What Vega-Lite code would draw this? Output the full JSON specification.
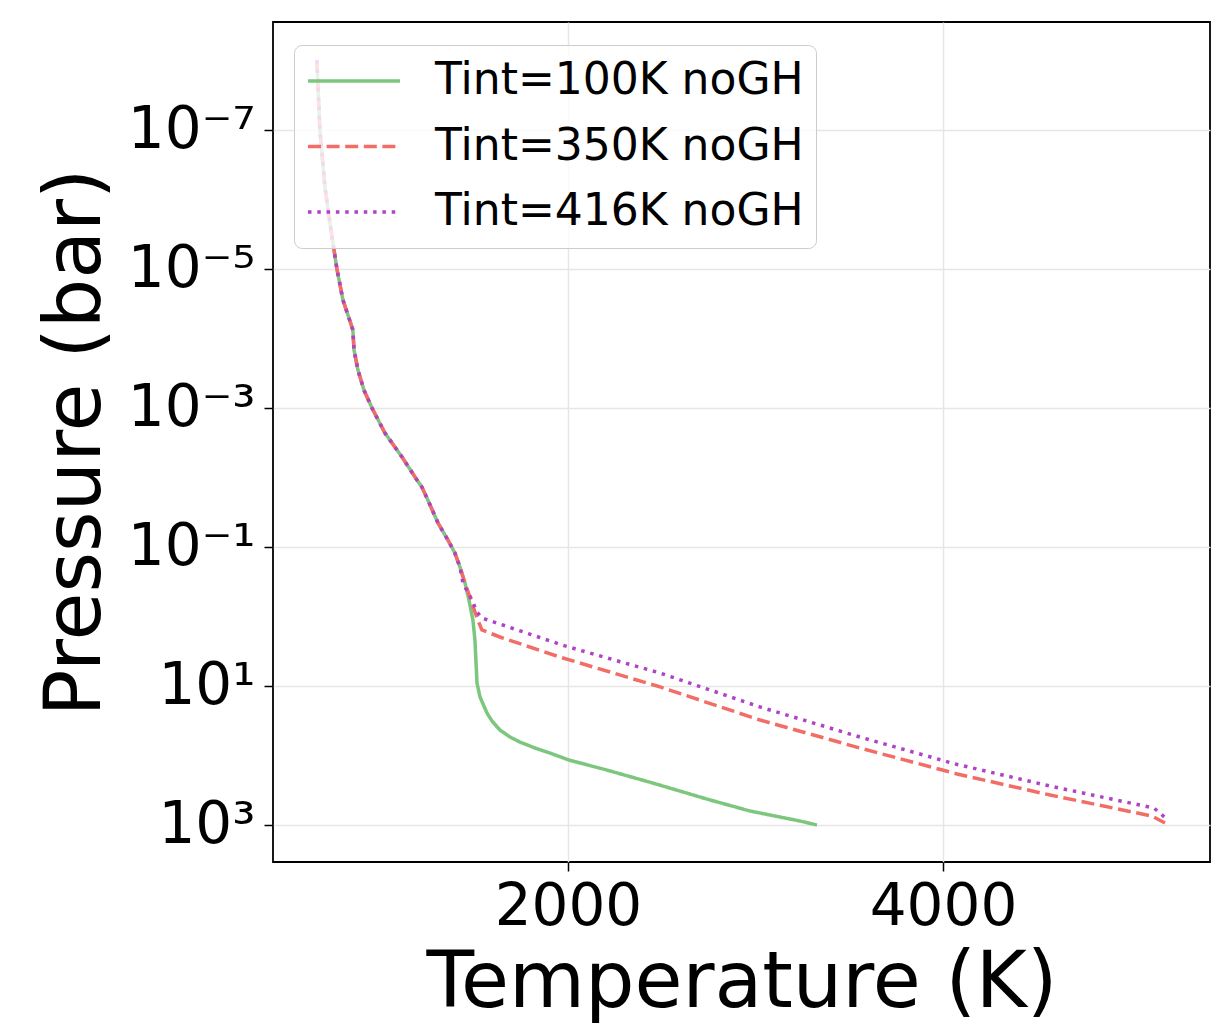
{
  "$schema": "https://vega.github.io/schema/vega-lite/v6.json",
  "autosize": {"type": "none"},
  "padding": {"left": 273, "top": 22, "right": 1, "bottom": 171},
  "width": 937,
  "height": 840,
  "background": "white",
  "config": {
    "font": "DejaVu Sans",
    "view": {"stroke": "black", "strokeWidth": 1.8},
    "axis": {
      "domain": false,
      "grid": true,
      "gridColor": "#e6e6e6",
      "gridWidth": 1.5,
      "tickColor": "black",
      "tickWidth": 1.5,
      "tickSize": 9,
      "labelColor": "black",
      "titleColor": "black",
      "labelFont": "DejaVu Sans",
      "titleFont": "DejaVu Sans",
      "titleFontWeight": "normal"
    }
  },
  "data": {
    "values": [
      {"series": "Tint=100K noGH", "T": 661, "P": 9.84e-9},
      {"series": "Tint=100K noGH", "T": 677, "P": 1.0e-7},
      {"series": "Tint=100K noGH", "T": 704, "P": 6.61e-7},
      {"series": "Tint=100K noGH", "T": 736, "P": 2.75e-6},
      {"series": "Tint=100K noGH", "T": 768, "P": 1.0e-5},
      {"series": "Tint=100K noGH", "T": 800, "P": 2.79e-5},
      {"series": "Tint=100K noGH", "T": 832, "P": 5.07e-5},
      {"series": "Tint=100K noGH", "T": 853, "P": 7.55e-5},
      {"series": "Tint=100K noGH", "T": 859, "P": 1.46e-4},
      {"series": "Tint=100K noGH", "T": 880, "P": 2.84e-4},
      {"series": "Tint=100K noGH", "T": 912, "P": 5.51e-4},
      {"series": "Tint=100K noGH", "T": 955, "P": 1.0e-3},
      {"series": "Tint=100K noGH", "T": 1024, "P": 2.29e-3},
      {"series": "Tint=100K noGH", "T": 1115, "P": 5.07e-3},
      {"series": "Tint=100K noGH", "T": 1195, "P": 1.09e-2},
      {"series": "Tint=100K noGH", "T": 1221, "P": 1.37e-2},
      {"series": "Tint=100K noGH", "T": 1253, "P": 2.11e-2},
      {"series": "Tint=100K noGH", "T": 1307, "P": 4.52e-2},
      {"series": "Tint=100K noGH", "T": 1360, "P": 7.93e-2},
      {"series": "Tint=100K noGH", "T": 1397, "P": 0.122},
      {"series": "Tint=100K noGH", "T": 1424, "P": 0.194},
      {"series": "Tint=100K noGH", "T": 1451, "P": 0.33},
      {"series": "Tint=100K noGH", "T": 1472, "P": 0.579},
      {"series": "Tint=100K noGH", "T": 1493, "P": 1.12},
      {"series": "Tint=100K noGH", "T": 1504, "P": 2.18},
      {"series": "Tint=100K noGH", "T": 1509, "P": 4.23},
      {"series": "Tint=100K noGH", "T": 1515, "P": 9.06},
      {"series": "Tint=100K noGH", "T": 1531, "P": 14.4},
      {"series": "Tint=100K noGH", "T": 1568, "P": 24.4},
      {"series": "Tint=100K noGH", "T": 1595, "P": 31.9},
      {"series": "Tint=100K noGH", "T": 1637, "P": 42.9},
      {"series": "Tint=100K noGH", "T": 1691, "P": 54.2},
      {"series": "Tint=100K noGH", "T": 1744, "P": 64.0},
      {"series": "Tint=100K noGH", "T": 1824, "P": 78.0},
      {"series": "Tint=100K noGH", "T": 1904, "P": 92.1},
      {"series": "Tint=100K noGH", "T": 2005, "P": 116},
      {"series": "Tint=100K noGH", "T": 2208, "P": 162},
      {"series": "Tint=100K noGH", "T": 2453, "P": 249},
      {"series": "Tint=100K noGH", "T": 2741, "P": 423},
      {"series": "Tint=100K noGH", "T": 2971, "P": 629},
      {"series": "Tint=100K noGH", "T": 3237, "P": 875},
      {"series": "Tint=100K noGH", "T": 3328, "P": 1000},

      {"series": "Tint=350K noGH", "T": 661, "P": 9.84e-9},
      {"series": "Tint=350K noGH", "T": 677, "P": 1.0e-7},
      {"series": "Tint=350K noGH", "T": 704, "P": 6.61e-7},
      {"series": "Tint=350K noGH", "T": 736, "P": 2.75e-6},
      {"series": "Tint=350K noGH", "T": 768, "P": 1.0e-5},
      {"series": "Tint=350K noGH", "T": 800, "P": 2.79e-5},
      {"series": "Tint=350K noGH", "T": 832, "P": 5.07e-5},
      {"series": "Tint=350K noGH", "T": 853, "P": 7.55e-5},
      {"series": "Tint=350K noGH", "T": 859, "P": 1.46e-4},
      {"series": "Tint=350K noGH", "T": 880, "P": 2.84e-4},
      {"series": "Tint=350K noGH", "T": 912, "P": 5.51e-4},
      {"series": "Tint=350K noGH", "T": 955, "P": 1.0e-3},
      {"series": "Tint=350K noGH", "T": 1024, "P": 2.29e-3},
      {"series": "Tint=350K noGH", "T": 1115, "P": 5.07e-3},
      {"series": "Tint=350K noGH", "T": 1195, "P": 1.09e-2},
      {"series": "Tint=350K noGH", "T": 1221, "P": 1.37e-2},
      {"series": "Tint=350K noGH", "T": 1253, "P": 2.11e-2},
      {"series": "Tint=350K noGH", "T": 1307, "P": 4.52e-2},
      {"series": "Tint=350K noGH", "T": 1360, "P": 7.93e-2},
      {"series": "Tint=350K noGH", "T": 1397, "P": 0.122},
      {"series": "Tint=350K noGH", "T": 1424, "P": 0.194},
      {"series": "Tint=350K noGH", "T": 1451, "P": 0.33},
      {"series": "Tint=350K noGH", "T": 1483, "P": 0.579},
      {"series": "Tint=350K noGH", "T": 1515, "P": 1.05},
      {"series": "Tint=350K noGH", "T": 1541, "P": 1.56},
      {"series": "Tint=350K noGH", "T": 1637, "P": 1.97},
      {"series": "Tint=350K noGH", "T": 1957, "P": 3.83},
      {"series": "Tint=350K noGH", "T": 2491, "P": 10.3},
      {"series": "Tint=350K noGH", "T": 3024, "P": 30.8},
      {"series": "Tint=350K noGH", "T": 3557, "P": 78.0},
      {"series": "Tint=350K noGH", "T": 4075, "P": 184},
      {"series": "Tint=350K noGH", "T": 4571, "P": 370},
      {"series": "Tint=350K noGH", "T": 5115, "P": 743},
      {"series": "Tint=350K noGH", "T": 5184, "P": 935},

      {"series": "Tint=416K noGH", "T": 661, "P": 9.84e-9},
      {"series": "Tint=416K noGH", "T": 677, "P": 1.0e-7},
      {"series": "Tint=416K noGH", "T": 704, "P": 6.61e-7},
      {"series": "Tint=416K noGH", "T": 736, "P": 2.75e-6},
      {"series": "Tint=416K noGH", "T": 768, "P": 1.0e-5},
      {"series": "Tint=416K noGH", "T": 800, "P": 2.79e-5},
      {"series": "Tint=416K noGH", "T": 832, "P": 5.07e-5},
      {"series": "Tint=416K noGH", "T": 853, "P": 7.55e-5},
      {"series": "Tint=416K noGH", "T": 859, "P": 1.46e-4},
      {"series": "Tint=416K noGH", "T": 880, "P": 2.84e-4},
      {"series": "Tint=416K noGH", "T": 912, "P": 5.51e-4},
      {"series": "Tint=416K noGH", "T": 955, "P": 1.0e-3},
      {"series": "Tint=416K noGH", "T": 1024, "P": 2.29e-3},
      {"series": "Tint=416K noGH", "T": 1115, "P": 5.07e-3},
      {"series": "Tint=416K noGH", "T": 1195, "P": 1.09e-2},
      {"series": "Tint=416K noGH", "T": 1221, "P": 1.37e-2},
      {"series": "Tint=416K noGH", "T": 1253, "P": 2.11e-2},
      {"series": "Tint=416K noGH", "T": 1307, "P": 4.52e-2},
      {"series": "Tint=416K noGH", "T": 1360, "P": 7.93e-2},
      {"series": "Tint=416K noGH", "T": 1397, "P": 0.122},
      {"series": "Tint=416K noGH", "T": 1424, "P": 0.194},
      {"series": "Tint=416K noGH", "T": 1440, "P": 0.33},
      {"series": "Tint=416K noGH", "T": 1488, "P": 0.579},
      {"series": "Tint=416K noGH", "T": 1515, "P": 0.861},
      {"series": "Tint=416K noGH", "T": 1541, "P": 1.05},
      {"series": "Tint=416K noGH", "T": 1984, "P": 2.65},
      {"series": "Tint=416K noGH", "T": 2491, "P": 6.5},
      {"series": "Tint=416K noGH", "T": 3024, "P": 20.0},
      {"series": "Tint=416K noGH", "T": 3557, "P": 54.2},
      {"series": "Tint=416K noGH", "T": 4064, "P": 132},
      {"series": "Tint=416K noGH", "T": 4571, "P": 275},
      {"series": "Tint=416K noGH", "T": 5125, "P": 569},
      {"series": "Tint=416K noGH", "T": 5200, "P": 847}
    ]
  },
  "mark": {"type": "line", "strokeWidth": 3.5, "clip": true},
  "encoding": {
    "x": {
      "field": "T",
      "type": "quantitative",
      "scale": {"domain": [427, 5424], "nice": false, "zero": false},
      "axis": {
        "values": [2000, 4000],
        "format": "d",
        "labelFontSize": 58,
        "labelPadding": 7,
        "title": "Temperature (K)",
        "titleFontSize": 78,
        "titlePadding": 8
      }
    },
    "y": {
      "field": "P",
      "type": "quantitative",
      "scale": {"type": "log", "domain": [2.79e-9, 3404], "nice": false, "reverse": true},
      "axis": {
        "values": [1e-7, 1e-5, 0.001, 0.1, 10, 1000],
        "labelExpr": "datum.value < 1e-6 ? '10⁻⁷' : datum.value < 1e-4 ? '10⁻⁵' : datum.value < 1e-2 ? '10⁻³' : datum.value < 1 ? '10⁻¹' : datum.value < 100 ? '10¹' : '10³'",
        "labelFontSize": 58,
        "labelPadding": 9,
        "title": "Pressure (bar)",
        "titleFontSize": 78,
        "titlePadding": 12
      }
    },
    "order": {"field": "P", "type": "quantitative"},
    "color": {
      "field": "series",
      "type": "nominal",
      "scale": {
        "domain": ["Tint=100K noGH", "Tint=350K noGH", "Tint=416K noGH"],
        "range": ["#7dc67d", "#f26d66", "#b042c8"]
      },
      "legend": {
        "title": null,
        "orient": "none",
        "legendX": 21,
        "legendY": 23,
        "symbolType": "stroke",
        "symbolSize": 8464,
        "symbolStrokeWidth": 3.5,
        "clipHeight": 48,
        "labelFontSize": 44,
        "labelFont": "DejaVu Sans",
        "labelColor": "black",
        "labelOffset": 33,
        "padding": 12,
        "rowPadding": 17.5,
        "fillColor": "rgba(255,255,255,0.8)",
        "strokeColor": "#cccccc",
        "cornerRadius": 8,
        "labelLimit": 1000
      }
    },
    "strokeDash": {
      "field": "series",
      "type": "nominal",
      "scale": {
        "domain": ["Tint=100K noGH", "Tint=350K noGH", "Tint=416K noGH"],
        "range": [[1, 0], [13, 5.6], [3.5, 5.8]]
      },
      "legend": {
        "title": null,
        "orient": "none",
        "legendX": 21,
        "legendY": 23,
        "symbolType": "stroke",
        "symbolSize": 8464,
        "symbolStrokeWidth": 3.5,
        "clipHeight": 48,
        "labelFontSize": 44,
        "labelFont": "DejaVu Sans",
        "labelColor": "black",
        "labelOffset": 33,
        "padding": 12,
        "rowPadding": 17.5,
        "fillColor": "rgba(255,255,255,0.8)",
        "strokeColor": "#cccccc",
        "cornerRadius": 8,
        "labelLimit": 1000
      }
    }
  }
}
